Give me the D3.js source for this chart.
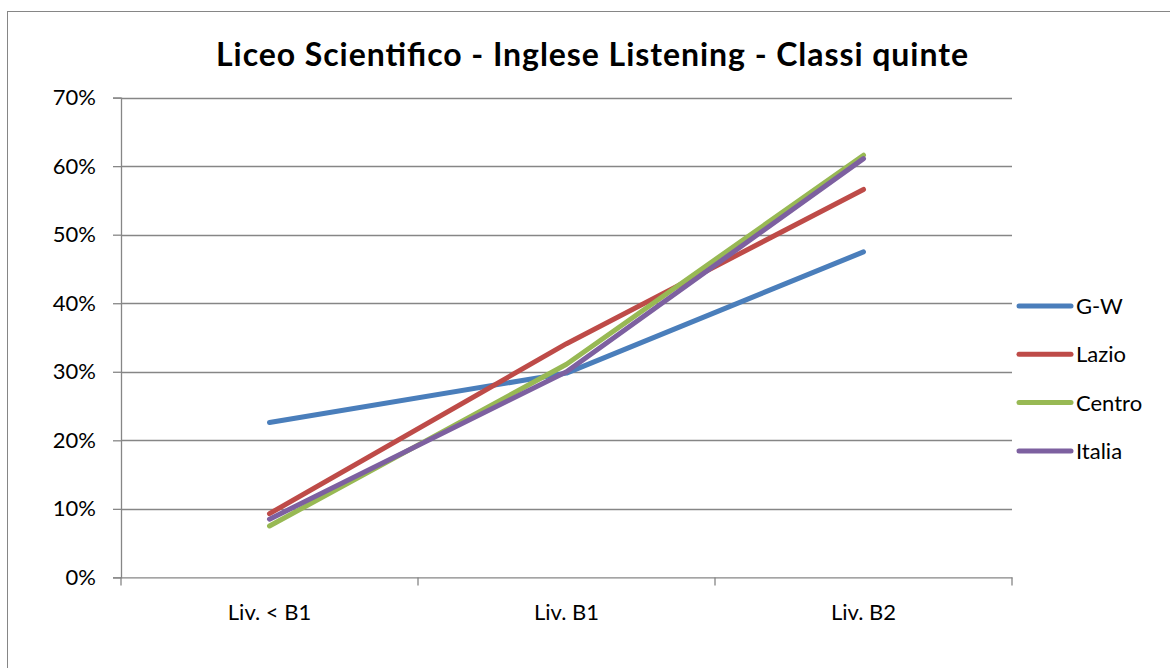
<!DOCTYPE html>
<html>
<head>
<meta charset="utf-8">
<script src="https://cdn.jsdelivr.net/npm/d3@7"></script>
<style>
	body { margin: 0; background: #fff; }
	svg { display: block; font-family: Lato, "Open Sans", sans-serif; }
</style>
</head>
<body>
<div id="chart"></div>
<script>
// DATA
const categories = ['Liv. < B1', 'Liv. B1', 'Liv. B2'];
const seriesNames = ['G-W', 'Lazio', 'Centro', 'Italia'];
const gw = [0.226, 0.298, 0.475];
const lazio = [0.093, 0.341, 0.566];
const centro = [0.075, 0.311, 0.616];
const italia = [0.085, 0.300, 0.611];
const yTicks = [0, 0.1, 0.2, 0.3, 0.4, 0.5, 0.6, 0.7];
const colors = ['#4a7ebb', '#be4b48', '#98b954', '#7d60a0'];
const title = 'Liceo Scientifico - Inglese Listening - Classi quinte';

const series = [gw, lazio, centro, italia].map((v, i) => ({ name: seriesNames[i], values: v, color: colors[i] }));

// chart dimension
const w = 1170, h = 668;
const plot = { left: 121, right: 1012, top: 97.6, bottom: 577.4 };
const fontSize = 22;

const svg = d3.select('#chart').append('svg')
	.attr('width', w)
	.attr('height', h);

// outer frame
svg.append('rect')
	.attr('x', 7.5).attr('y', 11.5)
	.attr('width', 1200).attr('height', 700)
	.attr('fill', 'none')
	.attr('stroke', '#868686')
	.attr('stroke-width', 1);

// title
svg.append('text')
	.attr('x', 592).attr('y', 66)
	.attr('text-anchor', 'middle')
	.attr('font-size', 32)
	.attr('font-weight', 'bold')
	.attr('fill', '#000')
	.attr('textLength', 752)
	.attr('lengthAdjust', 'spacing')
	.text(title);

// scales
const xScale = d3.scaleBand()
	.domain(categories)
	.range([plot.left, plot.right]);
const yScale = d3.scaleLinear()
	.domain([0, 0.7])
	.range([plot.bottom, plot.top]);

// gridlines
svg.append('g')
	.selectAll('line')
	.data(yTicks.slice(1))
	.enter().append('line')
	.attr('x1', plot.left).attr('x2', plot.right)
	.attr('y1', d => Math.round(yScale(d)) + 0.5)
	.attr('y2', d => Math.round(yScale(d)) + 0.5)
	.attr('stroke', '#868686')
	.attr('stroke-width', 1.3);

// y axis
const yAxis = d3.axisLeft(yScale)
	.tickValues(yTicks)
	.tickFormat(d3.format('.0%'))
	.tickSize(8)
	.tickPadding(17);
const gy = svg.append('g')
	.attr('transform', `translate(${plot.left}, 0)`)
	.call(yAxis);
gy.select('.domain').attr('stroke', '#868686').attr('stroke-width', 1.3);
gy.selectAll('.tick line').attr('stroke', '#868686').attr('stroke-width', 1.3);
gy.selectAll('.tick text')
	.attr('font-size', fontSize)
	.attr('font-family', 'Lato, "Open Sans", sans-serif')
	.attr('fill', '#000');

// x axis
const xAxis = d3.axisBottom(xScale)
	.tickSize(0)
	.tickPadding(27);
const gx = svg.append('g')
	.attr('transform', `translate(0, ${plot.bottom})`)
	.call(xAxis);
gx.select('.domain').attr('stroke', '#868686').attr('stroke-width', 1.3);
gx.selectAll('.tick text')
	.attr('font-size', fontSize)
	.attr('font-family', 'Lato, "Open Sans", sans-serif')
	.attr('fill', '#000');
// category separators
const bounds = categories.map(c => xScale(c)).concat([plot.right]);
gx.selectAll('.sep')
	.data(bounds)
	.enter().append('line')
	.attr('class', 'sep')
	.attr('x1', d => d).attr('x2', d => d)
	.attr('y1', 0).attr('y2', 8)
	.attr('stroke', '#868686')
	.attr('stroke-width', 1.3);

// lines
const line = d3.line()
	.x((d, i) => xScale(categories[i]) + xScale.bandwidth() / 2)
	.y(d => yScale(d));
svg.append('g')
	.selectAll('path')
	.data(series)
	.enter().append('path')
	.attr('d', d => line(d.values))
	.attr('fill', 'none')
	.attr('stroke', d => d.color)
	.attr('stroke-width', 5)
	.attr('stroke-linecap', 'round')
	.attr('stroke-linejoin', 'round');

// legend
const legend = svg.append('g')
	.selectAll('g')
	.data(series)
	.enter().append('g')
	.attr('transform', (d, i) => `translate(1019, ${306 + i * 48.3})`);
legend.append('line')
	.attr('x1', 0).attr('x2', 52)
	.attr('y1', 0).attr('y2', 0)
	.attr('stroke', d => d.color)
	.attr('stroke-width', 5)
	.attr('stroke-linecap', 'round');
legend.append('text')
	.attr('x', 57).attr('y', 8)
	.attr('font-size', fontSize)
	.attr('fill', '#000')
	.text(d => d.name);
</script>
</body>
</html>
